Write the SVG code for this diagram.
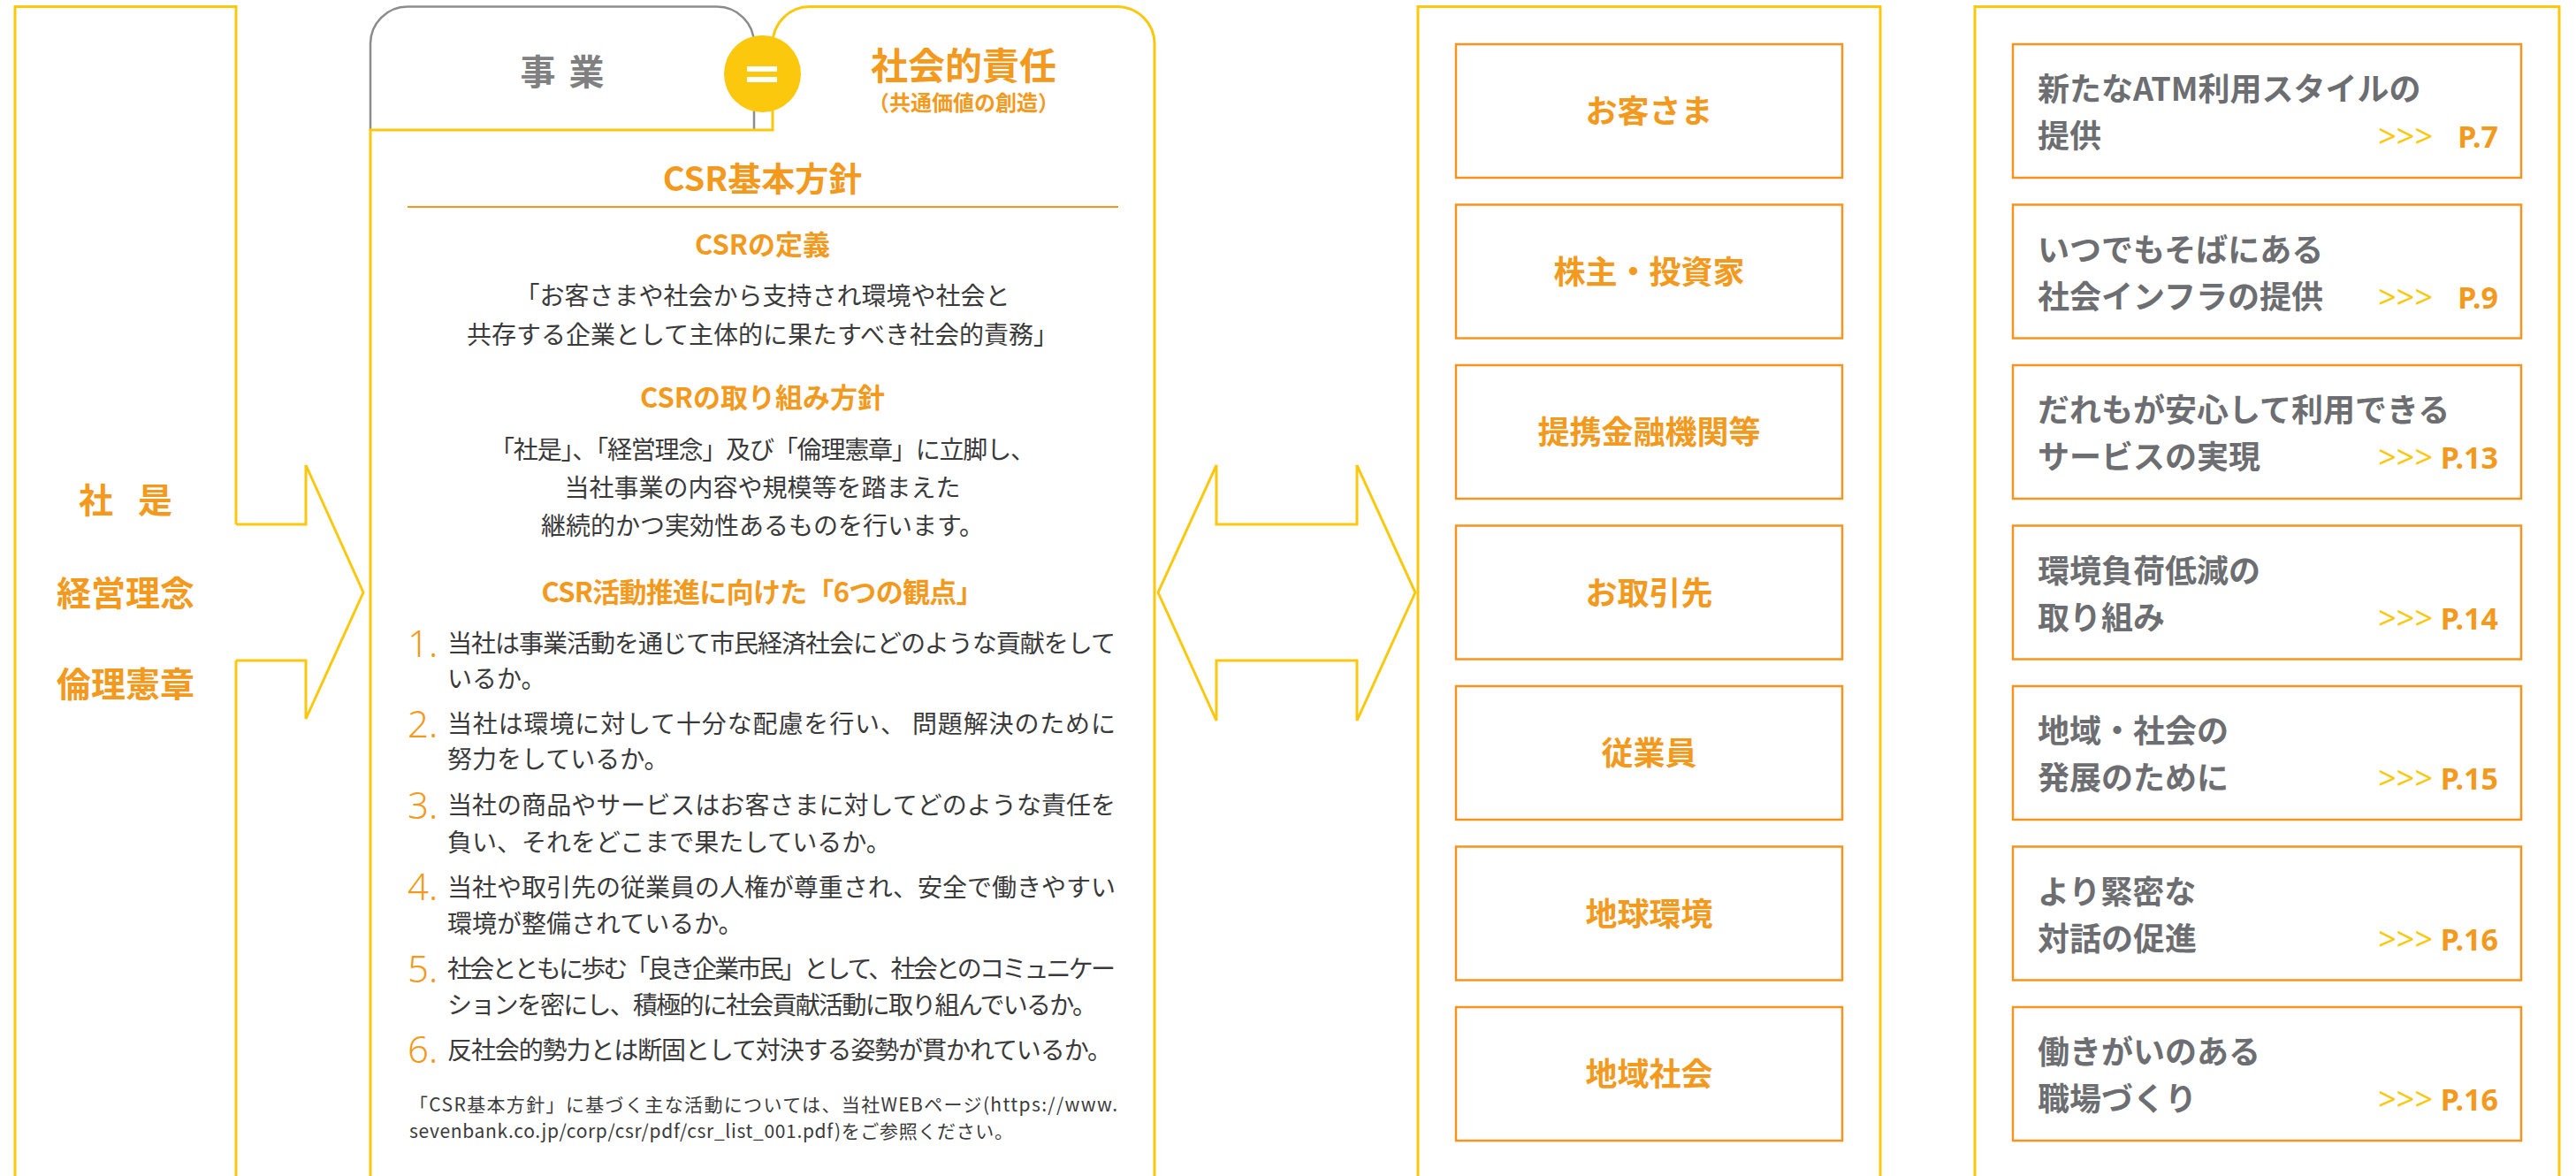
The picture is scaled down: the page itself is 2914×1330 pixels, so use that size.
<svg xmlns="http://www.w3.org/2000/svg" width="2914" height="1330" viewBox="0 0 2914 1330">
<style>
.yl{fill:none;stroke:#fcc80e;stroke-width:3;stroke-linejoin:miter}
.gl{fill:none;stroke:#8c8c8c;stroke-width:2.5}
.ob{fill:#fff;stroke:#f7941e;stroke-width:2.5}
.jp{font-family:'Noto Sans CJK JP','Noto Sans',sans-serif}
.lt{font-family:'Noto Sans','Noto Sans CJK JP',sans-serif}
.or{fill:#f39a1e}
.b{font-weight:700}
.hd{font-size:31px;font-weight:700;fill:#f39a1e;text-anchor:middle}
.bd{font-size:28px;fill:#3a3a3a}
.c{text-anchor:middle}
.num{font-size:42px;font-weight:300;fill:#f39a1e}
.big{font-size:39px;font-weight:700;fill:#f39a1e;text-anchor:middle}
.sh{font-size:36px;font-weight:700;fill:#f39a1e;text-anchor:middle}
.th{font-size:36px;font-weight:700;fill:#6d6e71}
.ar{font-size:36px;fill:#fcc80e;text-anchor:end}
.pg{font-size:34px;font-weight:700;fill:#f39a1e;text-anchor:end}
</style>

<g id="node-left">
  <path class="yl" d="M17,1332 V7.6 H267 V593 M267,747 V1332"/>
  <text class="jp big" x="142" y="580" word-spacing="19">社 是</text>
  <text class="jp big" x="142" y="685">経営理念</text>
  <text class="jp big" x="142" y="788">倫理憲章</text>
</g>

<g id="node-csr">
  <path class="gl" d="M419,147 V49.6 A42,42 0 0 1 461,7.6 H811 A42,42 0 0 1 853,49.6 V147"/>
  <path class="yl" d="M419,1332 V147 H874 V49.6 A42,42 0 0 1 916,7.6 H1264 A42,42 0 0 1 1306,49.6 V1332"/>
  <circle cx="862.5" cy="83.5" r="43.5" fill="#fcc80e"/>
  <rect x="845" y="75" width="34" height="6" fill="#fff"/>
  <rect x="845" y="87" width="34" height="6" fill="#fff"/>
  <text class="jp b" x="636" y="96" font-size="40" fill="#808080" text-anchor="middle" word-spacing="6">事 業</text>
  <text class="jp b or c" x="1090" y="90" font-size="42">社会的責任</text>
  <text class="jp b or c" x="1090" y="125" font-size="24">（共通価値の創造）</text>

  <text class="jp b or c" x="862.5" y="216" font-size="38">CSR基本方針</text>
  <line x1="461" y1="234" x2="1265" y2="234" stroke="#f39a1e" stroke-width="2"/>

  <text class="jp hd" x="862.5" y="288">CSRの定義</text>
  <text class="jp bd c" x="862.5" y="345">「お客さまや社会から支持され環境や社会と</text>
  <text class="jp bd c" x="862.5" y="389">共存する企業として主体的に果たすべき社会的責務」</text>

  <text class="jp hd" x="862.5" y="461">CSRの取り組み方針</text>
  <text class="jp bd c" x="862.5" y="519" textLength="617" lengthAdjust="spacing">「社是」、「経営理念」及び「倫理憲章」に立脚し、</text>
  <text class="jp bd c" x="862.5" y="562">当社事業の内容や規模等を踏まえた</text>
  <text class="jp bd c" x="862.5" y="605">継続的かつ実効性あるものを行います。</text>

  <text class="jp hd" x="862.5" y="681" textLength="500" lengthAdjust="spacing">CSR活動推進に向けた「6つの観点」</text>

  <text class="lt num" x="461" y="743">1.</text>
  <text class="jp bd" x="506" y="738" textLength="756" lengthAdjust="spacing">当社は事業活動を通じて市民経済社会にどのような貢献をして</text>
  <text class="jp bd" x="506" y="778">いるか。</text>

  <text class="lt num" x="461" y="834">2.</text>
  <text class="jp bd" x="506" y="829" textLength="756" lengthAdjust="spacing">当社は環境に対して十分な配慮を行い、 問題解決のために</text>
  <text class="jp bd" x="506" y="869">努力をしているか。</text>

  <text class="lt num" x="461" y="926">3.</text>
  <text class="jp bd" x="506" y="921" textLength="756" lengthAdjust="spacing">当社の商品やサービスはお客さまに対してどのような責任を</text>
  <text class="jp bd" x="506" y="963">負い、それをどこまで果たしているか。</text>

  <text class="lt num" x="461" y="1018">4.</text>
  <text class="jp bd" x="506" y="1014" textLength="756" lengthAdjust="spacing">当社や取引先の従業員の人権が尊重され、安全で働きやすい</text>
  <text class="jp bd" x="506" y="1055">環境が整備されているか。</text>

  <text class="lt num" x="461" y="1111">5.</text>
  <text class="jp bd" x="506" y="1106" textLength="756" lengthAdjust="spacing">社会とともに歩む「良き企業市民」として、社会とのコミュニケー</text>
  <text class="jp bd" x="506" y="1147" textLength="735" lengthAdjust="spacing">ションを密にし、積極的に社会貢献活動に取り組んでいるか。</text>

  <text class="lt num" x="461" y="1202">6.</text>
  <text class="jp bd" x="506" y="1198" textLength="752" lengthAdjust="spacing">反社会的勢力とは断固として対決する姿勢が貫かれているか。</text>

  <text class="jp" x="463" y="1257" font-size="21" fill="#3a3a3a" textLength="801" lengthAdjust="spacing">「CSR基本方針」に基づく主な活動については、当社WEBページ(https://www.</text>
  <text class="jp" x="463" y="1287" font-size="21" fill="#3a3a3a" textLength="683" lengthAdjust="spacing">sevenbank.co.jp/corp/csr/pdf/csr_list_001.pdf)をご参照ください。</text>
</g>

<g id="node-stakeholders">
  <path class="yl" d="M1604,1332 V7.6 H2127 V1332"/>
  <g id="sh-1"><rect class="ob" x="1647" y="50" width="437" height="151"/><text class="jp sh" x="1865.5" y="139">お客さま</text></g>
  <g id="sh-2"><rect class="ob" x="1647" y="231.5" width="437" height="151"/><text class="jp sh" x="1865.5" y="320.5">株主・投資家</text></g>
  <g id="sh-3"><rect class="ob" x="1647" y="413" width="437" height="151"/><text class="jp sh" x="1865.5" y="502">提携金融機関等</text></g>
  <g id="sh-4"><rect class="ob" x="1647" y="594.5" width="437" height="151"/><text class="jp sh" x="1865.5" y="683.5">お取引先</text></g>
  <g id="sh-5"><rect class="ob" x="1647" y="776" width="437" height="151"/><text class="jp sh" x="1865.5" y="865">従業員</text></g>
  <g id="sh-6"><rect class="ob" x="1647" y="957.5" width="437" height="151"/><text class="jp sh" x="1865.5" y="1046.5">地球環境</text></g>
  <g id="sh-7"><rect class="ob" x="1647" y="1139" width="437" height="151"/><text class="jp sh" x="1865.5" y="1228">地域社会</text></g>
</g>

<g id="node-themes">
  <path class="yl" d="M2234,1332 V7.6 H2895 V1332"/>
  <g id="th-1"><rect class="ob" x="2277" y="50" width="575" height="151"/>
    <text class="jp th" x="2305" y="114">新たなATM利用スタイルの</text><text class="jp th" x="2305" y="167">提供</text>
    <text class="lt ar" x="2752" y="167">&gt;&gt;&gt;</text><text class="lt pg" x="2826" y="167">P.7</text></g>
  <g id="th-2"><rect class="ob" x="2277" y="231.5" width="575" height="151"/>
    <text class="jp th" x="2305" y="295.5">いつでもそばにある</text><text class="jp th" x="2305" y="348.5">社会インフラの提供</text>
    <text class="lt ar" x="2752" y="348.5">&gt;&gt;&gt;</text><text class="lt pg" x="2826" y="348.5">P.9</text></g>
  <g id="th-3"><rect class="ob" x="2277" y="413" width="575" height="151"/>
    <text class="jp th" x="2305" y="477">だれもが安心して利用できる</text><text class="jp th" x="2305" y="530">サービスの実現</text>
    <text class="lt ar" x="2752" y="530">&gt;&gt;&gt;</text><text class="lt pg" x="2826" y="530">P.13</text></g>
  <g id="th-4"><rect class="ob" x="2277" y="594.5" width="575" height="151"/>
    <text class="jp th" x="2305" y="658.5">環境負荷低減の</text><text class="jp th" x="2305" y="711.5">取り組み</text>
    <text class="lt ar" x="2752" y="711.5">&gt;&gt;&gt;</text><text class="lt pg" x="2826" y="711.5">P.14</text></g>
  <g id="th-5"><rect class="ob" x="2277" y="776" width="575" height="151"/>
    <text class="jp th" x="2305" y="840">地域・社会の</text><text class="jp th" x="2305" y="893">発展のために</text>
    <text class="lt ar" x="2752" y="893">&gt;&gt;&gt;</text><text class="lt pg" x="2826" y="893">P.15</text></g>
  <g id="th-6"><rect class="ob" x="2277" y="957.5" width="575" height="151"/>
    <text class="jp th" x="2305" y="1021.5">より緊密な</text><text class="jp th" x="2305" y="1074.5">対話の促進</text>
    <text class="lt ar" x="2752" y="1074.5">&gt;&gt;&gt;</text><text class="lt pg" x="2826" y="1074.5">P.16</text></g>
  <g id="th-7"><rect class="ob" x="2277" y="1139" width="575" height="151"/>
    <text class="jp th" x="2305" y="1203">働きがいのある</text><text class="jp th" x="2305" y="1256">職場づくり</text>
    <text class="lt ar" x="2752" y="1256">&gt;&gt;&gt;</text><text class="lt pg" x="2826" y="1256">P.16</text></g>
</g>

<g id="connectors">
  <path class="yl" d="M267,593 H346 V526 L411,670 L346,813 V747 H267"/>
  <path class="yl" d="M1310,670 L1376,526 V593 H1535 V526 L1601,670 L1535,815 V747 H1376 V815 Z"/>
</g>
</svg>
